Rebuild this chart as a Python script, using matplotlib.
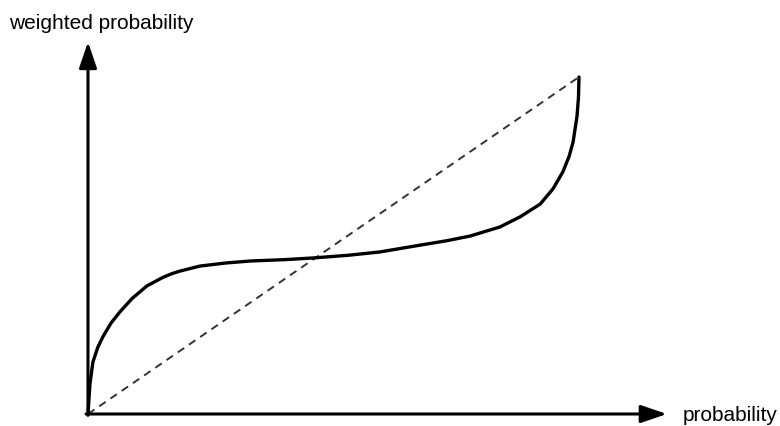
import matplotlib.pyplot as plt

# probability weighting curve
p = [0.0, 0.002, 0.004, 0.010, 0.020, 0.031, 0.047, 0.065, 0.090, 0.120, 0.152,
     0.170, 0.187, 0.228, 0.280, 0.330, 0.400, 0.458, 0.530, 0.595, 0.676, 0.730,
     0.778, 0.839, 0.880, 0.921, 0.947, 0.967, 0.980, 0.988, 0.996, 0.999, 1.0]
w = [0.0, 0.045, 0.089, 0.154, 0.198, 0.231, 0.270, 0.303, 0.343, 0.380, 0.405,
     0.416, 0.424, 0.439, 0.448, 0.454, 0.458, 0.463, 0.471, 0.481, 0.501, 0.514,
     0.528, 0.555, 0.585, 0.623, 0.668, 0.718, 0.765, 0.807, 0.884, 0.940, 1.0]

# 45 degree reference line
diag_x = [0.0, 1.0]
diag_y = [0.0, 1.0]

plt.rcParams['font.family'] = ['Liberation Sans', 'DejaVu Sans']

fig = plt.figure(figsize=(7.8, 4.27), dpi=100)
ax = fig.add_axes([0, 0, 1, 1])
ax.set_xlim(-0.1792, 1.4094)
ax.set_ylim(-0.0356, 1.2315)
ax.axis('off')

# axes with arrow heads
arrow = dict(arrowstyle='-|>,head_length=0.79,head_width=0.27', color='black',
             lw=2.2, shrinkA=0, shrinkB=0, mutation_scale=20)
ax.annotate('', xy=(0, 1.104), xytext=(0, -0.004), arrowprops=arrow)
ax.annotate('', xy=(1.179, 0), xytext=(-0.004, 0), arrowprops=arrow)

ax.plot(diag_x, diag_y, color='#333333', lw=1.4, linestyle=(0, (4, 3)))
ax.plot(p, w, color='black', lw=2.4, solid_capstyle='round', solid_joinstyle='round')

ax.text(-0.16, 1.163, 'weighted probability', fontsize=15, va='center', ha='left')
ax.text(1.211, 0.0, 'probability', fontsize=15, va='center', ha='left')

fig.savefig('out.png', dpi=100)
